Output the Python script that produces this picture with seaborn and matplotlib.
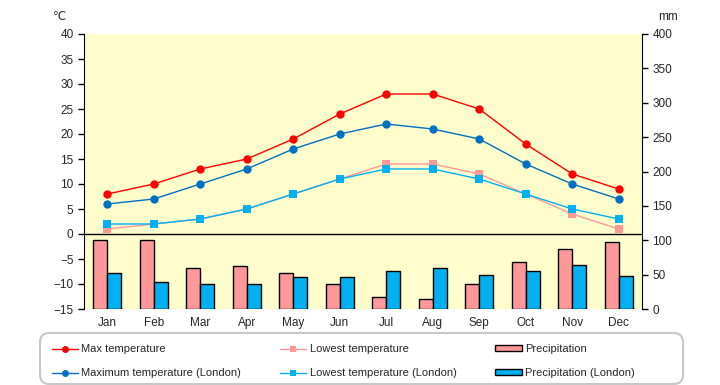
import pandas as pd
import numpy as np
import matplotlib
matplotlib.use('Agg')
import matplotlib.pyplot as plt
import seaborn as sns
from matplotlib.lines import Line2D
from matplotlib.patches import Patch, FancyBboxPatch

# chart data
months = ['Jan', 'Feb', 'Mar', 'Apr', 'May', 'Jun', 'Jul', 'Aug', 'Sep', 'Oct', 'Nov', 'Dec']
max_temp = [8, 10, 13, 15, 19, 24, 28, 28, 25, 18, 12, 9]
min_temp = [1, 2, 3, 5, 8, 11, 14, 14, 12, 8, 4, 1]
max_temp_london = [6, 7, 10, 13, 17, 20, 22, 21, 19, 14, 10, 7]
min_temp_london = [2, 2, 3, 5, 8, 11, 13, 13, 11, 8, 5, 3]
precip = [101, 101, 59, 62, 53, 37, 17, 14, 37, 69, 88, 98]
precip_london = [53, 40, 37, 37, 46, 46, 56, 59, 50, 56, 64, 48]

temp_ticks = list(range(-15, 41, 5))
mm_ticks = list(range(0, 401, 50))

sns.set_style('white')
plt.rcParams['font.family'] = ['Liberation Sans', 'DejaVu Sans']
plt.rcParams['axes.unicode_minus'] = True

c_max = '#FF0000'
c_min = '#FF9999'
c_max_l = '#0070C0'
c_min_l = '#00B0F0'
bg = '#FFFDCC'
fs = 8.5

fig = plt.figure(figsize=(7.2, 3.85), dpi=100)
ax = fig.add_axes([84 / 720, 1 - 309 / 385, 558 / 720, 275 / 385])
ax.set_facecolor(bg)
ax2 = ax.twinx()

# precipitation bars on the mm axis
prec_df = pd.DataFrame({
    'month': months * 2,
    'mm': precip + precip_london,
    'city': ['local'] * 12 + ['London'] * 12,
})
sns.barplot(data=prec_df, x='month', y='mm', hue='city', palette=[c_min, c_min_l],
            edgecolor='black', linewidth=1, width=0.6, gap=0, ax=ax2, legend=False,
            errorbar=None, saturation=1)

# temperature lines on the celsius axis
x = np.arange(len(months))
sns.lineplot(x=x, y=max_temp, color=c_max, marker='o', markersize=6, markeredgewidth=0, lw=1, ax=ax)
sns.lineplot(x=x, y=max_temp_london, color=c_max_l, marker='o', markersize=6, markeredgewidth=0, lw=1, ax=ax)
sns.lineplot(x=x, y=min_temp, color=c_min, marker='s', markersize=6, markeredgewidth=0, lw=1, ax=ax)
sns.lineplot(x=x, y=min_temp_london, color=c_min_l, marker='s', markersize=6, markeredgewidth=0, lw=1, ax=ax)

ax.axhline(0, color='black', lw=1, zorder=1)

ax.set_xlim(-0.5, 11.5)
ax.set_ylim(-15, 40)
ax.set_yticks(temp_ticks)
ax.set_xticks(x)
ax.set_xticklabels(months)
ax2.set_ylim(0, 400)
ax2.set_yticks(mm_ticks)
ax.set_xlabel('')
ax2.set_xlabel('')
ax.set_ylabel('')
ax2.set_ylabel('')

for a in (ax, ax2):
    a.spines['top'].set_visible(False)
    a.spines['bottom'].set_visible(False)
    a.tick_params(axis='both', labelsize=fs, length=4, width=1, color='black')
    a.tick_params(axis='x', length=0, pad=6)
ax.spines['left'].set_color('black')
ax2.spines['right'].set_color('black')
ax.spines['right'].set_visible(False)
ax2.spines['left'].set_visible(False)
ax.tick_params(axis='y', left=True)
ax2.tick_params(axis='y', right=True)

fig.text(53 / 720, 1 - 17 / 385, '℃', fontsize=fs, ha='left', va='center')
fig.text(658 / 720, 1 - 17 / 385, 'mm', fontsize=fs, ha='left', va='center')

# legend frame (rounded grey box) drawn in pixel coords
frame = FancyBboxPatch((40, 385 - 384), 643, 51, boxstyle='round,pad=0,rounding_size=9',
                       transform=None, facecolor='white', edgecolor='#C8C8C8', lw=1.5)
fig.add_artist(frame)

handles = [
    Line2D([], [], color=c_max, marker='o', markersize=5, markeredgewidth=0, lw=1),
    Line2D([], [], color=c_max_l, marker='o', markersize=5, markeredgewidth=0, lw=1),
    Line2D([], [], color=c_min, marker='s', markersize=5, markeredgewidth=0, lw=1),
    Line2D([], [], color=c_min_l, marker='s', markersize=5, markeredgewidth=0, lw=1),
    Patch(facecolor=c_min, edgecolor='black', lw=1),
    Patch(facecolor=c_min_l, edgecolor='black', lw=1),
]
labels = ['Max temperature', 'Maximum temperature (London)',
          'Lowest temperature', 'Lowest temperature (London)',
          'Precipitation', 'Precipitation (London)']
leg = fig.legend(handles, labels, ncol=3, loc='upper left',
                 bbox_to_anchor=(52 / 720, 1 - 344 / 385),
                 fontsize=8, frameon=False,
                 handlelength=2.35, handletextpad=0.3, handleheight=0.35,
                 labelspacing=1.25, columnspacing=3.5, borderpad=0, borderaxespad=0)

fig.savefig('out.png', dpi=100)
